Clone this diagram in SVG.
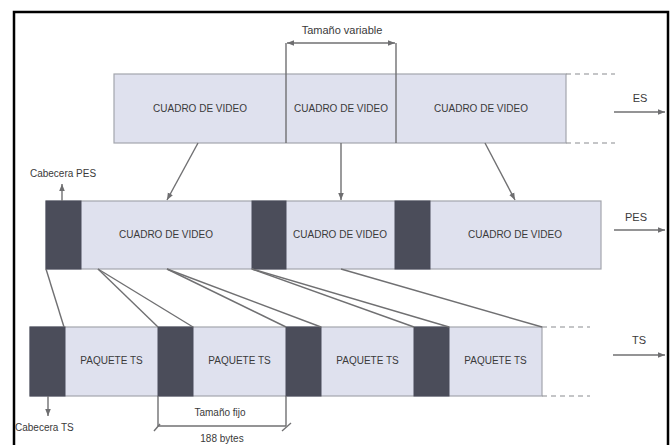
<svg xmlns="http://www.w3.org/2000/svg" width="672" height="445" viewBox="0 0 672 445">
<defs>
<marker id="ah" viewBox="0 0 10 10" refX="10" refY="5" markerWidth="7" markerHeight="7" markerUnits="userSpaceOnUse" orient="auto-start-reverse">
<path d="M0,1 L10,5 L0,9 z" fill="#6e6e70"/>
</marker>
<style>
.t{font-family:"Liberation Sans",Arial,sans-serif;font-size:10px;fill:#3a3a3a;text-anchor:middle}
.lb{font-size:11px}
.seg{fill:#dfe1ee;stroke:#a3a6ad;stroke-width:1.2}
.hdr{fill:#4b4d5a;stroke:#4b4d5a;stroke-width:1}
.ln{stroke:#707072;stroke-width:1.4;fill:none}
.dash{stroke:#8a8c90;stroke-width:1.2;stroke-dasharray:5 4;fill:none}
</style>
</defs>
<rect width="672" height="445" fill="#ffffff"/>
<path d="M14,460 V12 H668 V460" fill="none" stroke="#000" stroke-width="2.5"/>

<g id="es-row">
<rect class="seg" x="114" y="74" width="452" height="69"/>
<line class="ln" x1="286" y1="43" x2="286" y2="143"/>
<line class="ln" x1="396" y1="43" x2="396" y2="143"/>
<line class="dash" x1="566" y1="74" x2="615" y2="74"/>
<line class="dash" x1="566" y1="143" x2="615" y2="143"/>
<text class="t" x="200" y="112">CUADRO DE VIDEO</text>
<text class="t" x="341" y="112">CUADRO DE VIDEO</text>
<text class="t" x="481" y="112">CUADRO DE VIDEO</text>
</g>

<g id="tamano-variable">
<text class="t lb" x="342" y="34">Tamaño variable</text>
<line class="ln" x1="287" y1="43" x2="395" y2="43" marker-start="url(#ah)" marker-end="url(#ah)"/>
</g>

<g id="es-label">
<text class="t lb" x="640" y="102">ES</text>
<line class="ln" x1="614" y1="112" x2="665" y2="112" marker-end="url(#ah)"/>
</g>

<g id="pes-row">
<rect class="seg" x="46" y="201" width="555" height="68"/>
<rect class="hdr" x="46" y="201" width="35" height="68"/>
<rect class="hdr" x="252" y="201" width="34" height="68"/>
<rect class="hdr" x="395" y="201" width="35" height="68"/>
<text class="t" x="166" y="238">CUADRO DE VIDEO</text>
<text class="t" x="340" y="238">CUADRO DE VIDEO</text>
<text class="t" x="515" y="238">CUADRO DE VIDEO</text>
</g>

<g id="cabecera-pes">
<text class="t" x="63" y="177">Cabecera PES</text>
<line class="ln" x1="62" y1="201" x2="62" y2="184" marker-end="url(#ah)"/>
</g>

<g id="pes-label">
<text class="t lb" x="636" y="221">PES</text>
<line class="ln" x1="614" y1="230" x2="665" y2="230" marker-end="url(#ah)"/>
</g>

<g id="ts-row">
<rect class="seg" x="30" y="327" width="512" height="69"/>
<rect class="hdr" x="30" y="327" width="35" height="69"/>
<rect class="hdr" x="158" y="327" width="35" height="69"/>
<rect class="hdr" x="286" y="327" width="35" height="69"/>
<rect class="hdr" x="414" y="327" width="35" height="69"/>
<line class="dash" x1="542" y1="327" x2="590" y2="327"/>
<line class="dash" x1="542" y1="396" x2="590" y2="396"/>
<text class="t" x="111.5" y="364">PAQUETE TS</text>
<text class="t" x="239.5" y="364">PAQUETE TS</text>
<text class="t" x="367.5" y="364">PAQUETE TS</text>
<text class="t" x="495.5" y="364">PAQUETE TS</text>
</g>

<g id="cabecera-ts">
<line class="ln" x1="48" y1="396" x2="48" y2="416" marker-end="url(#ah)"/>
<text class="t" x="15" y="431" style="text-anchor:start">Cabecera TS</text>
</g>

<g id="ts-label">
<text class="t lb" x="639" y="344">TS</text>
<line class="ln" x1="613" y1="355" x2="665" y2="355" marker-end="url(#ah)"/>
</g>

<g id="tamano-fijo">
<line class="ln" x1="158" y1="396" x2="158" y2="426"/>
<line class="ln" x1="286" y1="396" x2="286" y2="426"/>
<line class="ln" x1="158" y1="426" x2="286" y2="426"/>
<line class="ln" x1="160" y1="424" x2="154" y2="431"/>
<line class="ln" x1="291" y1="423" x2="282" y2="431"/>
<text class="t" x="220" y="416">Tamaño fijo</text>
<text class="t" x="222" y="442">188 bytes</text>
</g>

<g id="connectors">
<line class="ln" x1="198" y1="143" x2="167" y2="200" marker-end="url(#ah)"/>
<line class="ln" x1="341" y1="143" x2="341" y2="200" marker-end="url(#ah)"/>
<line class="ln" x1="485" y1="143" x2="515" y2="200" marker-end="url(#ah)"/>
<line class="ln" x1="46" y1="269" x2="64" y2="327"/>
<line class="ln" x1="98" y1="269" x2="158" y2="327"/>
<line class="ln" x1="98" y1="269" x2="193" y2="327"/>
<line class="ln" x1="167" y1="269" x2="286" y2="327"/>
<line class="ln" x1="167" y1="269" x2="321" y2="327"/>
<line class="ln" x1="252" y1="269" x2="414" y2="327"/>
<line class="ln" x1="252" y1="269" x2="449" y2="327"/>
<line class="ln" x1="341" y1="269" x2="542" y2="327"/>
</g>
</svg>
